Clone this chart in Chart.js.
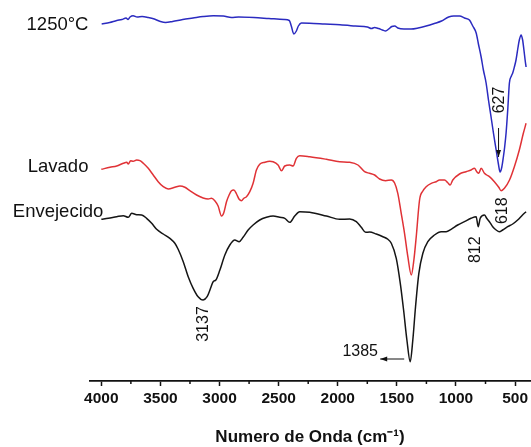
<!DOCTYPE html>
<html>
<head>
<meta charset="utf-8">
<script src="https://cdn.jsdelivr.net/npm/chart.js@4.4.0/dist/chart.umd.min.js"></script>
<style>
  html, body { margin: 0; padding: 0; background: #fff; }
  #grafico { display: block; }
</style>
</head>
<body>
<canvas id="grafico" width="531" height="447"></canvas>
<script>
// espectros FTIR (transmitancia en unidades arbitrarias, curvas desplazadas)
const series = ['1250°C', 'Lavado', 'Envejecido'];

const ondas1250 = [3997,3929,3869,3826,3791,3774,3757,3731,3697,3655,3603,3552,3500,3457,3397,3311,3225,3139,3053,2968,2899,2839,2710,2582,2453,2410,2393,2372,2350,2333,2307,2238,2110,1981,1852,1749,1714,1689,1655,1621,1595,1569,1543,1518,1492,1440,1380,1320,1252,1183,1122,1062,1019,969,928,886,858,829,810,787,768,745,725,703,683,660,641,627,612,599,588,576,561,548,531,520,506,492,476,464,449,436,425,415,407];
const trans1250 = [357,358.5,360.5,361.5,363,361.5,364,365.3,364,364.5,363.5,362,359.5,358.5,359.5,361.5,363,364.5,365.3,365,363.5,364,363.5,362.5,361.5,360.5,355,347,350,355,358,357.8,357,356.2,355,354,352.5,353.5,352.5,351,350,352,354.5,355,353,352,352,353,355,357.5,360,364,365,365,363,361,355,348,337,324,311,298,281,264,248,231,217,209,214,224,234,248,273,298,305,308,314,321,333,341,346,341,331,321,314];

const ondasLavado = [4000,3927,3870,3814,3785,3772,3752,3730,3701,3673,3645,3603,3561,3519,3476,3434,3378,3335,3293,3251,3194,3139,3096,3068,3040,3012,2983,2964,2941,2919,2899,2879,2856,2834,2814,2795,2772,2744,2716,2688,2660,2617,2575,2547,2505,2476,2448,2406,2378,2350,2322,2237,2096,1984,1899,1829,1773,1731,1688,1646,1595,1547,1519,1492,1463,1435,1407,1378,1356,1336,1308,1280,1252,1209,1167,1139,1097,1069,1049,1027,970,914,872,844,824,807,787,759,740,717,675,638,618,590,547,506,464,430,407];
const transLavado = [211.7,213.7,215,217.7,218.7,217,220.3,219.7,221,220.3,217.7,212.7,206,199.3,194.3,192,193.7,195,193.7,190.3,186,183,182,182.7,180.3,175,165,168.3,179.3,186,190.3,191,187,181.7,180.3,182.7,184.3,189.3,197.7,211,216.7,218.7,219.7,219.3,216,210.3,215,216,215,222.7,225.3,224.3,221.7,219.3,218.7,216,209.3,207.7,206,202,200.3,201,198,187.7,167.7,147.7,124.3,106,121,144.3,181,190,194.3,197.7,199.3,201,201,198.3,196,201,207,209.3,211,212.7,209.3,207.7,212.7,207.7,206,204.3,199.3,193.7,190.3,192.7,201,214.3,231,247.7,257.7];

const ondasEnv = [4000,3941,3870,3814,3772,3743,3701,3659,3617,3574,3532,3476,3420,3378,3350,3307,3265,3223,3181,3139,3105,3076,3054,3031,2997,2955,2913,2871,2834,2801,2758,2716,2660,2603,2547,2491,2448,2406,2364,2322,2237,2096,1984,1899,1843,1801,1764,1731,1674,1618,1576,1547,1505,1471,1443,1415,1387,1365,1342,1314,1280,1238,1182,1125,1083,1041,985,928,872,829,812,795,759,740,717,689,660,633,605,563,520,478,437,407];
const transEnv = [161.7,162.7,164.3,165.3,163.7,167.7,166.3,166,162.7,157.7,151.7,147,142.7,137.7,131.7,119.3,104.3,92.7,84.3,81,84.3,92.7,99.3,101,111,126,136,141,139.3,143.7,151,156,161,163.7,165,163.7,162.7,158.7,165,169.3,168.7,165,161.7,162,159.3,153.7,148.7,149,147,144.3,141.7,137.7,122.7,97.7,71,41,19.3,41,74.3,107.7,127.7,139.3,146,149.3,149.3,151.7,156,159.3,162.7,164.3,154.3,162.7,166,162.7,159.3,154.3,151,149.3,151,154.3,157,161,166,169.3];

const ticksMayores = [4000, 3500, 3000, 2500, 2000, 1500, 1000, 500];
const ticksMenores = [3750, 3250, 2750, 2250, 1750, 1250, 750];

// bandas marcadas: serie, numero de onda
const bandas = [
  { texto: '627', serie: 0, onda: 627 },
  { texto: '618', serie: 1, onda: 618 },
  { texto: '812', serie: 2, onda: 812 },
  { texto: '3137', serie: 2, onda: 3139 },
  { texto: '1385', serie: 2, onda: 1387 }
];

// estilos de las marcas (desplazamientos en px desde el punto)
const estiloBandas = [
  { dx: -0.7, dy: -72, rot: true, flecha: [-1.5, -44, -1.5, -15] },
  { dx: 1, dy: 20, rot: true },
  { dx: -3, dy: 23, rot: true },
  { dx: 0, dy: 24, rot: true },
  { dx: -50, dy: -10, rot: false, flecha: [-6, -2.7, -30, -2.7] }
];
const offsetNombres = [[-13.2, 5.5], [-12.9, 2.4], [2, -2.6]];

const colores = ['#2b2bc0', '#e03236', '#151515'];
const fuente = '"Liberation Sans", Arial, sans-serif';

const ondas = [ondas1250, ondasLavado, ondasEnv];
const trans = [trans1250, transLavado, transEnv];

const datasets = series.map((nombre, i) => ({
  label: nombre,
  data: ondas[i].map((o, k) => ({ x: o, y: trans[i][k] })),
  borderColor: colores[i],
  borderWidth: 1.5,
  pointRadius: 0,
  fill: false,
  cubicInterpolationMode: 'monotone'
}));

function flecha(ctx, x1, y1, x2, y2) {
  const ang = Math.atan2(y2 - y1, x2 - x1);
  ctx.beginPath();
  ctx.moveTo(x1, y1);
  ctx.lineTo(x2, y2);
  ctx.stroke();
  ctx.beginPath();
  ctx.moveTo(x2, y2);
  ctx.lineTo(x2 - 7 * Math.cos(ang) + 2.5 * Math.sin(ang), y2 - 7 * Math.sin(ang) - 2.5 * Math.cos(ang));
  ctx.lineTo(x2 - 7 * Math.cos(ang) - 2.5 * Math.sin(ang), y2 - 7 * Math.sin(ang) + 2.5 * Math.cos(ang));
  ctx.closePath();
  ctx.fill();
}

const etiquetas = {
  id: 'etiquetas',
  afterDatasetsDraw(chart) {
    const ctx = chart.ctx;
    const x = chart.scales.x, y = chart.scales.y;
    ctx.save();
    ctx.fillStyle = '#111';
    ctx.strokeStyle = '#111';
    ctx.lineWidth = 1;

    // nombres de las curvas
    ctx.font = '18.5px ' + fuente;
    ctx.textAlign = 'right';
    ctx.textBaseline = 'alphabetic';
    chart.data.datasets.forEach((ds, i) => {
      const p = ds.data[0];
      ctx.fillText(ds.label, x.getPixelForValue(p.x) + offsetNombres[i][0], y.getPixelForValue(p.y) + offsetNombres[i][1]);
    });

    // bandas
    ctx.font = '16px ' + fuente;
    ctx.textAlign = 'center';
    ctx.textBaseline = 'middle';
    bandas.forEach((b, i) => {
      const e = estiloBandas[i];
      const k = ondas[b.serie].indexOf(b.onda);
      const px = x.getPixelForValue(b.onda);
      const py = y.getPixelForValue(trans[b.serie][k]);
      ctx.save();
      ctx.translate(px + e.dx, py + e.dy);
      if (e.rot) ctx.rotate(-Math.PI / 2);
      ctx.fillText(b.texto, 0, 0);
      ctx.restore();
      if (e.flecha) {
        const f = e.flecha;
        flecha(ctx, px + f[0], py + f[1], px + f[2], py + f[3]);
      }
    });

    // ticks menores del eje x
    ctx.lineWidth = 1.5;
    ticksMenores.forEach(v => {
      const px = x.getPixelForValue(v);
      ctx.beginPath();
      ctx.moveTo(px, x.top);
      ctx.lineTo(px, x.top + 3);
      ctx.stroke();
    });
    ctx.restore();
  }
};

new Chart(document.getElementById('grafico'), {
  type: 'line',
  data: { datasets: datasets },
  options: {
    responsive: false,
    animation: false,
    layout: { padding: { left: 89.5, right: 0, top: 0, bottom: 0 } },
    plugins: { legend: { display: false }, tooltip: { enabled: false } },
    scales: {
      x: {
        type: 'linear',
        reverse: true,
        min: 370,
        max: 4100,
        afterBuildTicks: s => { s.ticks = ticksMayores.map(v => ({ value: v })); },
        afterFit: s => { s.height = 66; },
        border: { display: true, color: '#111', width: 1.7 },
        grid: { drawOnChartArea: false, drawTicks: true, tickLength: 5, tickColor: '#111', tickWidth: 1.5 },
        ticks: {
          autoSkip: false,
          maxRotation: 0,
          padding: 3,
          color: '#111',
          callback: v => String(v),
          font: { family: fuente, size: 15.5, weight: 'bold' }
        },
        title: {
          display: true,
          text: 'Numero de Onda (cm⁻¹)',
          color: '#111',
          padding: { top: 0, bottom: -1 },
          font: { family: fuente, size: 17, weight: 'bold' }
        }
      },
      y: {
        display: false,
        min: 0,
        max: 381
      }
    }
  },
  plugins: [etiquetas]
});
</script>
</body>
</html>
